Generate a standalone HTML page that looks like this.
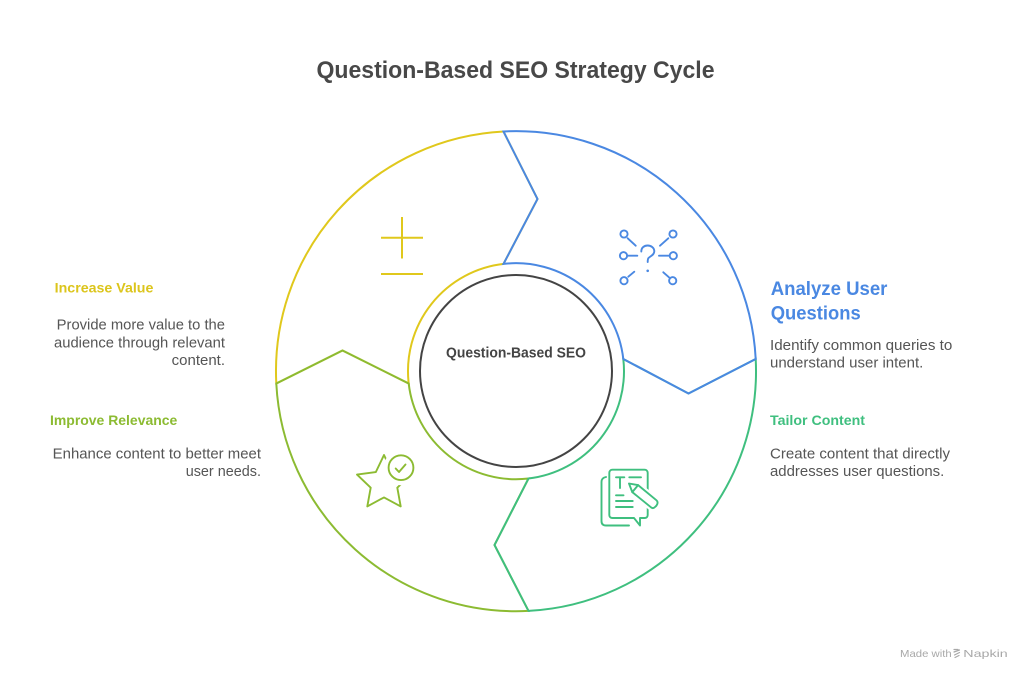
<!DOCTYPE html>
<html>
<head>
<meta charset="utf-8">
<style>
  html, body { margin:0; padding:0; background:#ffffff; }
  body { width:1032px; height:681px; overflow:hidden; }
  svg { display:block; }
  text { font-family: "Liberation Sans", Arial, sans-serif; }
</style>
</head>
<body>
<svg width="1032" height="681" viewBox="0 0 1032 681" xmlns="http://www.w3.org/2000/svg">
  <rect width="1032" height="681" fill="#ffffff"/>

  <!-- Title -->
  <text x="316.5" y="78" font-size="24" font-weight="bold" fill="#484848" textLength="398" lengthAdjust="spacingAndGlyphs">Question-Based SEO Strategy Cycle</text>

  <!-- Ring segments -->
  <g fill="none" stroke-width="2" stroke-linejoin="miter">
    <!-- Yellow -->
    <path stroke="#e0c81c" d="M276.3,383.5 A240,240 0 0 1 503.5,131.5 L537.5,199 L503.5,263.9 A108,108 0 0 0 408.7,383.5 L342.5,350.5 Z"/>
    <!-- Olive -->
    <path stroke="#8cbb32" d="M528.5,610.9 A240,240 0 0 1 276.3,383.5 L342.5,350.5 L408.7,383.5 A108,108 0 0 0 528.5,478.5 L494.5,545 Z"/>
    <!-- Green -->
    <path stroke="#3fbf7f" d="M755.7,359 A240,240 0 0 1 528.5,610.9 L494.5,545 L528.5,478.5 A108,108 0 0 0 623.3,359 L688.5,393.5 Z"/>
    <!-- Blue -->
    <path stroke="#4a88e2" d="M503.5,131.5 A240,240 0 0 1 755.7,359 L688.5,393.5 L623.3,359 A108,108 0 0 0 503.5,263.9 L537.5,199 Z"/>
  </g>

  <!-- Center circle -->
  <circle cx="516" cy="371" r="96" fill="#ffffff" stroke="#444444" stroke-width="2"/>
  <text x="446" y="357.5" font-size="14.5" font-weight="bold" fill="#444444" textLength="140" lengthAdjust="spacingAndGlyphs">Question-Based SEO</text>

  <!-- Plus-minus icon (yellow) -->
  <g stroke="#e0c81c" stroke-width="2" fill="none">
    <line x1="402" y1="217" x2="402" y2="258.5"/>
    <line x1="381" y1="237.7" x2="423" y2="237.7"/>
    <line x1="381" y1="274" x2="423" y2="274"/>
  </g>

  <!-- Question network icon (blue) -->
  <g stroke="#4a88e2" stroke-width="1.9" fill="none" stroke-linecap="round">
    <circle cx="624" cy="234" r="3.6"/>
    <circle cx="673" cy="234" r="3.6"/>
    <circle cx="623.5" cy="255.7" r="3.6"/>
    <circle cx="673.3" cy="255.7" r="3.6"/>
    <circle cx="624" cy="280.7" r="3.6"/>
    <circle cx="672.7" cy="280.7" r="3.6"/>
    <line x1="627.7" y1="238.3" x2="635.7" y2="245.7"/>
    <line x1="668.3" y1="238.3" x2="660" y2="245.7"/>
    <line x1="627.3" y1="255.7" x2="637.3" y2="255.7"/>
    <line x1="659" y1="255.7" x2="669" y2="255.7"/>
    <line x1="628.3" y1="276.7" x2="634.3" y2="271.7"/>
    <line x1="663.3" y1="272.3" x2="669" y2="277.3"/>
    <path d="M641.3,251.5 C641.3,247.5 644.3,245.5 647.7,245.5 C651.2,245.5 654.3,247.8 654.3,251.3 C654.3,255 650.5,256 648.5,258 C647.8,258.8 647.7,259.5 647.7,262"/>
  </g>
  <circle cx="647.7" cy="270.8" r="1.3" fill="#4a88e2"/>

  <!-- Star with check icon (olive) -->
  <g stroke="#8cbb32" stroke-width="1.9" fill="none" stroke-linejoin="round" stroke-linecap="round">
    <path d="M384,455 L392.2,472.1 L411,474.6 L397.3,487.7 L400.7,506.4 L384,497.4 L367.3,506.4 L370.7,487.7 L357,474.6 L375.8,472.1 Z"/>
  </g>
  <circle cx="401" cy="467.7" r="17.5" fill="#ffffff"/>
  <g stroke="#8cbb32" stroke-width="1.9" fill="none" stroke-linejoin="round" stroke-linecap="round">
    <circle cx="401" cy="467.7" r="12.4"/>
    <path d="M395.7,468.5 L399,472 L405.5,464.5"/>
  </g>

  <!-- Document with pencil icon (green) -->
  <g stroke="#3fbf7f" stroke-width="1.9" fill="none" stroke-linejoin="round" stroke-linecap="round">
    <!-- back page -->
    <path d="M606,477 C603,477.5 601.5,479 601.5,482 L601.5,521 C601.5,524 603,525.5 606,525.5 L629,525.5"/>
    <!-- front page with tail -->
    <path d="M612.5,469.7 L644.5,469.7 C646.5,469.7 647.7,471 647.7,473 L647.7,515 C647.7,516.8 646.5,518 644.7,518 L640,518 L640,525.5 L634,518 L612.5,518 C610.5,518 609.3,516.8 609.3,515 L609.3,473 C609.3,471 610.5,469.7 612.5,469.7 Z" fill="#ffffff"/>
    <!-- T -->
    <line x1="616" y1="477.3" x2="624.3" y2="477.3"/>
    <line x1="620" y1="477.3" x2="620" y2="488"/>
    <line x1="629.3" y1="477.3" x2="641" y2="477.3"/>
    <!-- lines -->
    <line x1="616" y1="495.3" x2="623.5" y2="495.3"/>
    <line x1="616" y1="501" x2="632.7" y2="501"/>
    <line x1="616" y1="507" x2="632.7" y2="507"/>
  </g>
  <!-- pencil: white underlay then green -->
  <path d="M629,483.5 L638.1,485.1 L657.9,501.5 L652.1,508.5 L632.3,492.1 Z" fill="#ffffff" stroke="#ffffff" stroke-width="6" stroke-linejoin="round"/>
  <g stroke="#3fbf7f" stroke-width="1.9" fill="none" stroke-linejoin="round" stroke-linecap="round">
    <path d="M629,483.5 L638.1,485.1 L656.5,500.3 C659,502.5 656.5,506 655,507 C654,508 652.5,508.8 651,507.3 L632.3,492.1 Z"/>
    <line x1="632.3" y1="492.1" x2="638.1" y2="485.1"/>
  </g>

  <!-- Left labels -->
  <text x="54.7" y="292.5" font-size="14" font-weight="bold" fill="#dcc51c" textLength="98.7" lengthAdjust="spacingAndGlyphs">Increase Value</text>
  <g font-size="14.5" fill="#555555" text-anchor="end">
    <text x="225" y="329.3" textLength="168.3" lengthAdjust="spacingAndGlyphs">Provide more value to the</text>
    <text x="225" y="347.3" textLength="171" lengthAdjust="spacingAndGlyphs">audience through relevant</text>
    <text x="225" y="365" textLength="53.3" lengthAdjust="spacingAndGlyphs">content.</text>
  </g>

  <text x="50" y="425" font-size="14" font-weight="bold" fill="#8cbb32" textLength="127.3" lengthAdjust="spacingAndGlyphs">Improve Relevance</text>
  <g font-size="14.5" fill="#555555" text-anchor="end">
    <text x="261" y="458.3" textLength="208.3" lengthAdjust="spacingAndGlyphs">Enhance content to better meet</text>
    <text x="261" y="476" textLength="75.3" lengthAdjust="spacingAndGlyphs">user needs.</text>
  </g>

  <!-- Right labels -->
  <text x="770.7" y="295" font-size="19" font-weight="bold" fill="#4a88e2" textLength="116.7" lengthAdjust="spacingAndGlyphs">Analyze User</text>
  <text x="770.7" y="319.3" font-size="19" font-weight="bold" fill="#4a88e2" textLength="90" lengthAdjust="spacingAndGlyphs">Questions</text>
  <g font-size="14.5" fill="#555555">
    <text x="770" y="350" textLength="182.3" lengthAdjust="spacingAndGlyphs">Identify common queries to</text>
    <text x="770" y="367.7" textLength="153.3" lengthAdjust="spacingAndGlyphs">understand user intent.</text>
  </g>

  <text x="770" y="425" font-size="14" font-weight="bold" fill="#3fbf7f" textLength="95" lengthAdjust="spacingAndGlyphs">Tailor Content</text>
  <g font-size="14.5" fill="#555555">
    <text x="770" y="458.3" textLength="180" lengthAdjust="spacingAndGlyphs">Create content that directly</text>
    <text x="770" y="476" textLength="174.3" lengthAdjust="spacingAndGlyphs">addresses user questions.</text>
  </g>

  <!-- Watermark -->
  <text x="900" y="657" font-size="10.5" fill="#a8a8a8" textLength="51.7" lengthAdjust="spacingAndGlyphs">Made with</text>
  <g stroke="#a8a8a8" stroke-width="1.2" fill="none" stroke-linecap="round">
    <line x1="954" y1="649.5" x2="958" y2="649.5"/>
    <line x1="954" y1="652" x2="959.5" y2="650"/>
    <line x1="954.5" y1="655" x2="959.5" y2="652.5"/>
    <line x1="955" y1="657.5" x2="959" y2="655.5"/>
  </g>
  <text x="963.3" y="657" font-size="10.5" fill="#a8a8a8" textLength="44.4" lengthAdjust="spacingAndGlyphs">Napkin</text>
</svg>
</body>
</html>
